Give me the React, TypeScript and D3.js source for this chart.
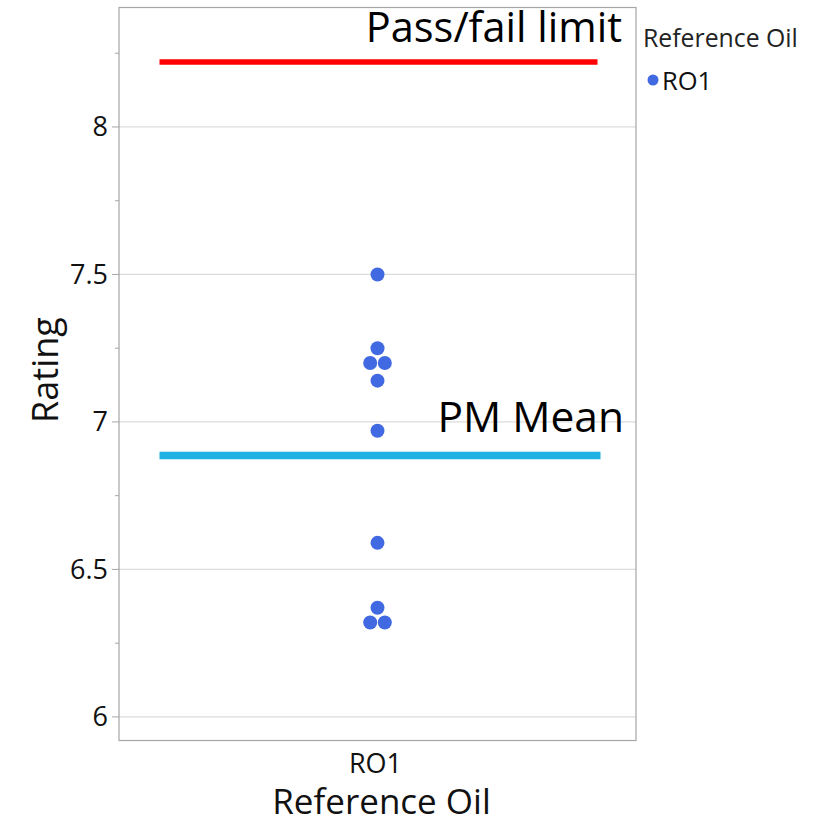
import * as d3 from "d3";

const categories = ["RO1"];
const ratings = [7.5, 7.25, 7.2, 7.2, 7.14, 6.97, 6.59, 6.37, 6.32, 6.32];
const majorTicks = [6, 6.5, 7, 7.5, 8];
const minorTicks = [6.25, 6.75, 7.25, 7.75, 8.25];
const passFailLimit = 8.22;
const pmMean = 6.886;

const font = "'Open Sans', 'Noto Sans', sans-serif";
const dotColor = "#4169E1";

// group duplicate values and spread them side by side, centred on the category
function swarm(values: number[], step: number) {
  const groups = d3.group(values, (v) => v);
  const out: { value: number; offset: number }[] = [];
  groups.forEach((items, value) => {
    items.forEach((_, i) => {
      out.push({ value, offset: (i - (items.length - 1) / 2) * step });
    });
  });
  return out;
}

export default function App() {
  const width = 823;
  const height = 824;
  const plot = { left: 119, right: 636, top: 7.5, bottom: 740.5 };

  const x = d3
    .scalePoint()
    .domain(categories)
    .range([plot.left, plot.right])
    .padding(0.5);
  const y = d3.scaleLinear().domain([5.92, 8.405]).range([plot.bottom, plot.top]);

  const cx = x("RO1") ?? 0;
  const points = swarm(ratings, 14.6);

  return (
    <svg
      width={width}
      height={height}
      style={{ position: "absolute", left: 0, top: 0, background: "#fff" }}
      fontFamily={font}
    >
      {majorTicks.map((tick) => (
        <g key={tick}>
          <line
            x1={plot.left}
            x2={plot.right}
            y1={y(tick)}
            y2={y(tick)}
            stroke="#dcdcdc"
            strokeWidth={1.2}
          />
          <line x1={plot.left - 7} x2={plot.left} y1={y(tick)} y2={y(tick)} stroke="#a6a6a6" />
          <text
            x={plot.left - 11}
            y={y(tick) + 9.5}
            textAnchor="end"
            fontSize={27}
            fill="#111"
          >
            {tick}
          </text>
        </g>
      ))}
      {minorTicks.map((tick) => (
        <line
          key={tick}
          x1={plot.left - 4}
          x2={plot.left}
          y1={y(tick)}
          y2={y(tick)}
          stroke="#a6a6a6"
        />
      ))}

      <rect
        x={plot.left}
        y={plot.top}
        width={plot.right - plot.left}
        height={plot.bottom - plot.top}
        fill="none"
        stroke="#a6a6a6"
        strokeWidth={1.2}
      />

      <line
        x1={cx - 218}
        x2={cx + 220}
        y1={y(passFailLimit)}
        y2={y(passFailLimit)}
        stroke="#ff0000"
        strokeWidth={5.5}
      />
      <line
        x1={cx - 218}
        x2={cx + 223}
        y1={y(pmMean)}
        y2={y(pmMean)}
        stroke="#1fb0e4"
        strokeWidth={7.5}
      />

      {points.map((p, i) => (
        <circle key={i} cx={cx + p.offset} cy={y(p.value)} r={7} fill={dotColor} />
      ))}

      <text x={622} y={42} textAnchor="end" fontSize={41.5} fill="#000">
        Pass/fail limit
      </text>
      <text x={624} y={432} textAnchor="end" fontSize={42.5} fill="#000">
        PM Mean
      </text>

      {categories.map((c) => (
        <text key={c} x={(x(c) ?? 0) - 2} y={773} textAnchor="middle" fontSize={27} fill="#111">
          {c}
        </text>
      ))}
      <text x={(plot.left + plot.right) / 2 + 4} y={814} textAnchor="middle" fontSize={35} fill="#111">
        Reference Oil
      </text>
      <text
        transform={`translate(58, 370) rotate(-90)`}
        textAnchor="middle"
        fontSize={36}
        fill="#111"
      >
        Rating
      </text>

      <g transform="translate(643, 0)">
        <text x={0} y={47} fontSize={24.8} fill="#222">
          Reference Oil
        </text>
        <circle cx={10} cy={80} r={5.5} fill={dotColor} />
        <text x={19} y={90} fontSize={25.5} fill="#111">
          RO1
        </text>
      </g>
    </svg>
  );
}
